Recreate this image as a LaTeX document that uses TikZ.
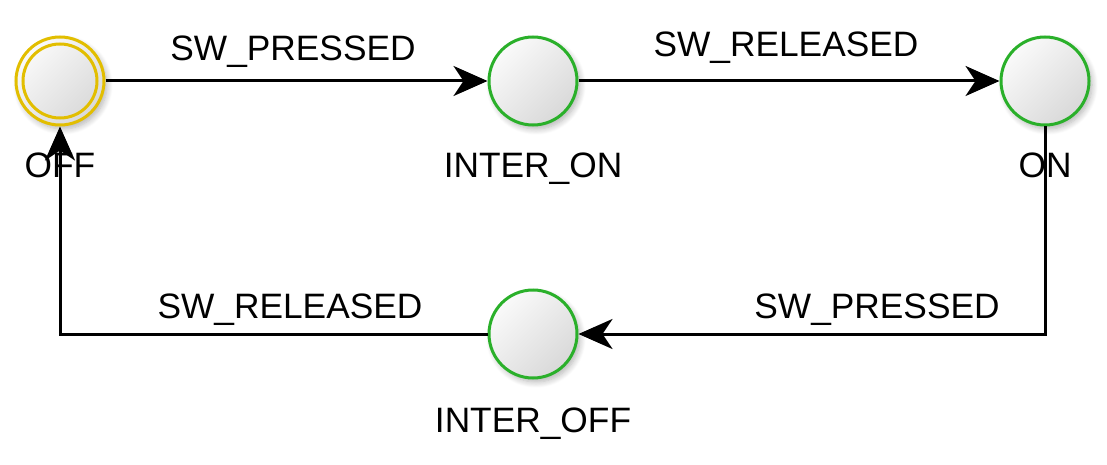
\documentclass[tikz,border=0pt]{standalone}
\usepackage{fontspec}
\setmainfont{Liberation Sans}
\usetikzlibrary{arrows.meta,shadows.blur}
\definecolor{stgreen}{RGB}{42,176,42}
\definecolor{styellow}{RGB}{226,190,0}
\begin{document}
\begin{tikzpicture}[x=1pt,y=-1pt,
  state/.style={circle, minimum size=88pt, inner sep=0pt, line width=3pt, draw=stgreen,
    top color=gray!4, bottom color=gray!30, shading angle=45,
    blur shadow={shadow xshift=3pt, shadow yshift=-4pt, shadow blur radius=6pt, shadow blur steps=8, shadow opacity=30}},
  ring/.style={circle, minimum size=74pt, inner sep=0pt, line width=3pt, draw=styellow},
  lbl/.style={font=\fontsize{35.3}{40}\selectfont, inner sep=0pt, anchor=base},
  edge/.style={line width=3pt, -{Stealth[length=34pt,width=30pt,inset=10pt]}}]
\useasboundingbox (0,0) rectangle (1107,465);
% states
\node[state, draw=styellow] (off) at (60,81) {};
\node[ring] (offring) at (off.center) {};
\node[state] (interon) at (533,81) {};
\node[state] (on) at (1045,81) {};
\node[state] (interoff) at (533,334) {};
% state labels
\node[lbl] (offlbl) at (60,178) {OFF};
\node[lbl] (interonlbl) at (533,178) {INTER\_ON};
\node[lbl] (onlbl) at (1045,178) {ON};
\node[lbl] (interofflbl) at (533,432) {INTER\_OFF};
% edge labels
\node[lbl] (e1) at (293,61) {SW\_PRESSED};
\node[lbl] (e2) at (786,57) {SW\_RELEASED};
\node[lbl] (e3) at (877,318) {SW\_PRESSED};
\node[lbl] (e4) at (290,318) {SW\_RELEASED};
% connectors
\draw[edge] (off) -- (interon);
\draw[edge] (interon) -- (on);
\draw[edge] (on.south) |- (interoff.east);
\draw[edge] (interoff.west) -| (off.south);
\end{tikzpicture}
\end{document}
